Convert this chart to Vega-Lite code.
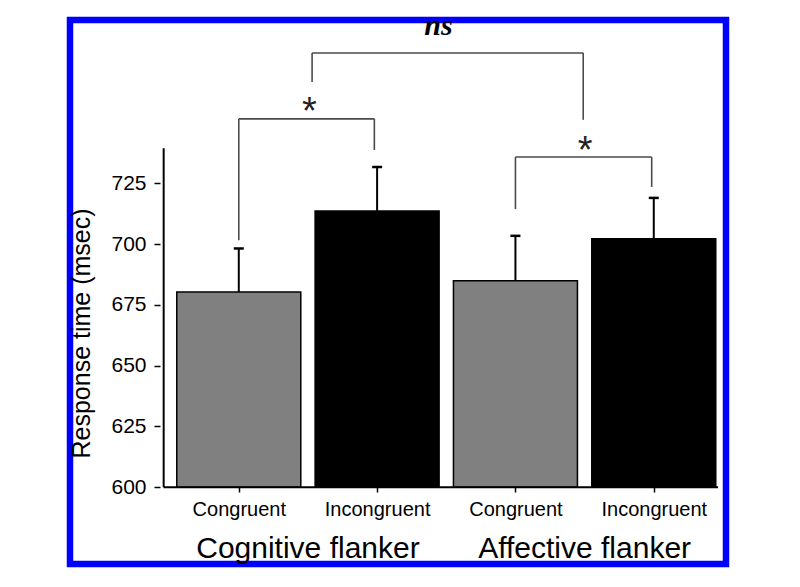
{
  "$schema": "https://vega.github.io/schema/vega-lite/v6.json",
  "width": 656,
  "height": 544,
  "autosize": {"type": "none"},
  "padding": {"left": 70, "top": 20, "right": 74, "bottom": 23},
  "background": "white",
  "config": {
    "view": {"stroke": "#0000ff", "strokeWidth": 6.5},
    "font": "Liberation Sans",
    "axis": {"grid": false, "labelColor": "black", "titleColor": "black", "tickColor": "black", "tickWidth": 1.5, "labelFont": "Liberation Sans", "titleFont": "Liberation Sans"}
  },
  "datasets": {
    "bars": [
      {"task": "Cognitive flanker", "cond": "Congruent", "pos": 1, "rt": 680.3, "upper": 698.2},
      {"task": "Cognitive flanker", "cond": "Incongruent", "pos": 2, "rt": 713.6, "upper": 731.7},
      {"task": "Affective flanker", "cond": "Congruent", "pos": 3, "rt": 684.9, "upper": 703.4},
      {"task": "Affective flanker", "cond": "Incongruent", "pos": 4, "rt": 702.2, "upper": 719.0}
    ],
    "brackets": [
      {"label": "ns", "left": 1.53, "right": 3.49, "top": 778.6, "leftEnd": 766.7, "rightEnd": 751.1, "lx": 2.443, "ly": 786},
      {"label": "*", "left": 1.0, "right": 1.98, "top": 751.5, "leftEnd": 701.6, "rightEnd": 738.7, "lx": 1.51, "ly": 749.5},
      {"label": "*", "left": 3.0, "right": 3.985, "top": 735.8, "leftEnd": 714.4, "rightEnd": 723.5, "lx": 3.503, "ly": 733.5}
    ]
  },
  "layer": [
    {
      "data": {"name": "bars"},
      "mark": {"type": "bar", "width": 124, "stroke": "black", "strokeWidth": 1.5},
      "encoding": {
        "x": {
          "field": "pos", "type": "quantitative",
          "scale": {"domain": [-0.184, 4.486], "nice": false, "zero": false},
          "axis": {"title": null, "values": [1, 2, 3, 4], "domain": false, "offset": -77, "tickSize": 5, "labelFontSize": 20, "labelPadding": 7,
                   "labelExpr": "datum.value % 2 == 1 ? 'Congruent' : 'Incongruent'"}
        },
        "y": {
          "field": "rt", "type": "quantitative",
          "scale": {"domain": [568.46, 792.15], "nice": false, "zero": false},
          "axis": {"title": "Response time (msec)", "values": [600, 625, 650, 675, 700, 725], "domain": false, "offset": -90, "tickSize": 6,
                   "labelFontSize": 21, "labelPadding": 8, "titleFontSize": 25, "titleFontWeight": "normal", "titleX": -79, "titleY": 313, "titleBaseline": "middle", "titleAlign": "center"}
        },
        "y2": {"datum": 600},
        "fill": {"field": "cond", "type": "nominal", "scale": {"domain": ["Congruent", "Incongruent"], "range": ["#808080", "#000000"]}, "legend": null}
      }
    },
    {
      "data": {"name": "bars"},
      "mark": {"type": "rule", "strokeWidth": 2, "color": "black"},
      "encoding": {
        "x": {"field": "pos", "type": "quantitative"},
        "y": {"field": "rt", "type": "quantitative"},
        "y2": {"field": "upper"}
      }
    },
    {
      "data": {"name": "bars"},
      "mark": {"type": "tick", "orient": "horizontal", "size": 10, "thickness": 2.5, "color": "black", "opacity": 1},
      "encoding": {
        "x": {"field": "pos", "type": "quantitative"},
        "y": {"field": "upper", "type": "quantitative"}
      }
    },
    {
      "data": {"values": [{}]},
      "mark": {"type": "rule", "strokeWidth": 2, "color": "black"},
      "encoding": {
        "x": {"datum": 0.457, "type": "quantitative"},
        "y": {"datum": 600, "type": "quantitative"},
        "y2": {"datum": 739.4}
      }
    },
    {
      "data": {"values": [{}]},
      "mark": {"type": "rule", "strokeWidth": 2, "color": "black"},
      "encoding": {
        "x": {"datum": 0.457, "type": "quantitative"},
        "x2": {"datum": 4.465},
        "y": {"datum": 600, "type": "quantitative"}
      }
    },
    {
      "data": {"values": [{"task": "Cognitive flanker", "pos": 1.5}, {"task": "Affective flanker", "pos": 3.5}]},
      "mark": {"type": "text", "fontSize": 30, "align": "center", "baseline": "alphabetic", "color": "black", "font": "Liberation Sans"},
      "encoding": {
        "x": {"field": "pos", "type": "quantitative"},
        "y": {"datum": 570.9, "type": "quantitative"},
        "text": {"field": "task"}
      }
    },
    {
      "data": {"name": "brackets"},
      "mark": {"type": "rule", "strokeWidth": 1.6, "color": "#4a4a4a"},
      "encoding": {
        "x": {"field": "left", "type": "quantitative"},
        "x2": {"field": "right"},
        "y": {"field": "top", "type": "quantitative"}
      }
    },
    {
      "data": {"name": "brackets"},
      "mark": {"type": "rule", "strokeWidth": 1.6, "color": "#4a4a4a"},
      "encoding": {
        "x": {"field": "left", "type": "quantitative"},
        "y": {"field": "leftEnd", "type": "quantitative"},
        "y2": {"field": "top"}
      }
    },
    {
      "data": {"name": "brackets"},
      "mark": {"type": "rule", "strokeWidth": 1.6, "color": "#4a4a4a"},
      "encoding": {
        "x": {"field": "right", "type": "quantitative"},
        "y": {"field": "rightEnd", "type": "quantitative"},
        "y2": {"field": "top"}
      }
    },
    {
      "data": {"name": "brackets"},
      "transform": [{"filter": "datum.label == 'ns'"}],
      "mark": {"type": "text", "font": "Liberation Serif", "fontStyle": "italic", "fontWeight": "bold", "fontSize": 30, "align": "center", "baseline": "alphabetic", "color": "black"},
      "encoding": {
        "x": {"field": "lx", "type": "quantitative"},
        "y": {"field": "ly", "type": "quantitative"},
        "text": {"field": "label"}
      }
    },
    {
      "data": {"name": "brackets"},
      "transform": [{"filter": "datum.label == '*'"}],
      "mark": {"type": "text", "font": "Liberation Sans", "fontSize": 38, "align": "center", "baseline": "alphabetic", "color": "#222222"},
      "encoding": {
        "x": {"field": "lx", "type": "quantitative"},
        "y": {"field": "ly", "type": "quantitative"},
        "text": {"field": "label"}
      }
    }
  ]
}
